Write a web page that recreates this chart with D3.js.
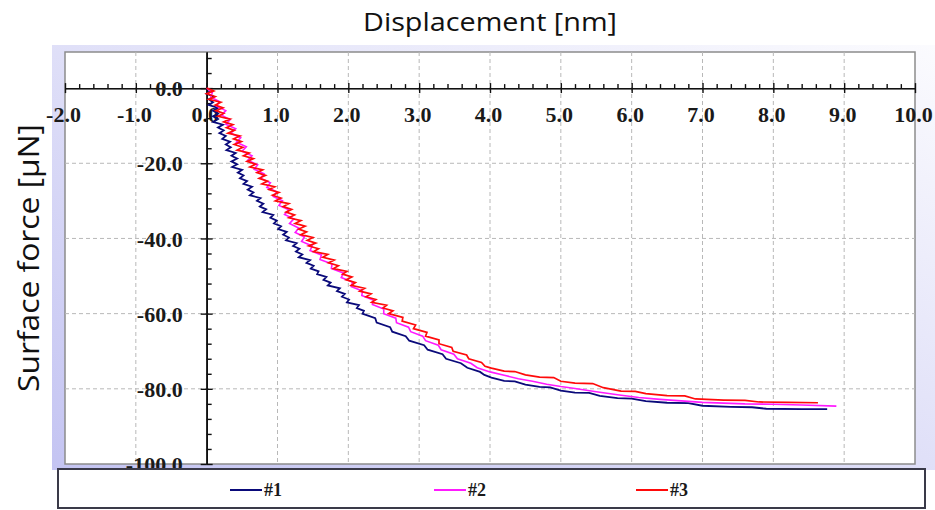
<!DOCTYPE html>
<html>
<head>
<meta charset="utf-8">
<script src="https://cdn.jsdelivr.net/npm/d3@7"></script>
<style>
body { margin: 0; background: #fff; }
svg { display: block; }
.tick text { font-family: "Liberation Serif", "Times New Roman", serif; font-weight: bold; font-size: 22px; fill: #1a1a1a; }
.axis path, .axis line { stroke: #111; stroke-width: 1.4; }
</style>
</head>
<body>
<div id="content"></div>
<script>
// tick labels
const X_TICKS = [-2, -1, 0, 1, 2, 3, 4, 5, 6, 7, 8, 9, 10];
const Y_TICKS = [0, -20, -40, -60, -80, -100];
const SERIES_NAMES = ['#1', '#2', '#3'];
const SERIES_COLORS = ['#0a0a7a', '#ff1aff', '#ff0a0a'];

// [displacement nm, force uN] (noisy part traced by hand)
const series1 = [
  [0, 0], [0.05, -0.75], [0.0, -1.5], [0.1, -2.25], [0.03, -3], [0.09, -3.75], [0.03, -4.5],
  [0.16, -5.25], [0.09, -6], [0.16, -6.75], [0.09, -7.5], [0.16, -8.25], [0.09, -9],
  [0.23, -9.75], [0.16, -10.5], [0.24, -11.25], [0.18, -12], [0.27, -12.75], [0.22, -13.5],
  [0.33, -14.25], [0.27, -15], [0.34, -15.75], [0.28, -16.5], [0.41, -17.25], [0.35, -18],
  [0.43, -18.75], [0.35, -19.5], [0.43, -20.25], [0.36, -21], [0.5, -21.75], [0.44, -22.5],
  [0.52, -23.25], [0.47, -24], [0.57, -24.75], [0.52, -25.5], [0.64, -26.25], [0.58, -27],
  [0.66, -27.75], [0.61, -28.5], [0.76, -29.25], [0.71, -30], [0.8, -30.75], [0.75, -31.5],
  [0.84, -32.25], [0.79, -33], [0.94, -33.75], [0.9, -34.5], [0.99, -35.25], [0.95, -36],
  [1.05, -36.75], [1.01, -37.5], [1.13, -38.25], [1.08, -39], [1.16, -39.75], [1.12, -40.5],
  [1.27, -41.25], [1.22, -42], [1.31, -42.75], [1.26, -43.5], [1.35, -44.25], [1.3, -45],
  [1.46, -45.75], [1.41, -46.5], [1.51, -47.25], [1.47, -48], [1.58, -48.75], [1.56, -49.5],
  [1.69, -50.25], [1.65, -51], [1.75, -51.75], [1.71, -52.5], [1.88, -53.25], [1.84, -54],
  [1.95, -54.75], [1.91, -55.5], [2.01, -56.25], [1.98, -57], [2.15, -57.75], [2.12, -58.5],
  [2.22, -59.25], [2.2, -60], [2.38, -61.2], [2.4, -62.4], [2.59, -63.6], [2.62, -64.8],
  [2.81, -66], [2.86, -67.2], [3.07, -68.4], [3.12, -69.6], [3.33, -70.8], [3.38, -72],
  [3.59, -73.2], [3.68, -74.4], [3.86, -75.5], [3.92, -76.3], [4.02, -77],
  [4.2, -77.9], [4.35, -78.0], [4.5, -78.9], [4.7, -79.5], [4.85, -79.6], [5.0, -80.5],
  [5.2, -81.0], [5.4, -81.1], [5.55, -81.9], [5.8, -82.5], [6.0, -82.6], [6.2, -83.3],
  [6.5, -83.7], [6.8, -83.8], [7.0, -84.5], [7.4, -84.8], [7.7, -84.9], [7.9, -85.3],
  [8.4, -85.4], [8.76, -85.4]
];
const series2 = [
  [0, 0], [0.08, -1.2], [0.06, -2.4], [0.18, -3.6], [0.14, -4.8], [0.27, -6], [0.21, -7.2],
  [0.33, -8.4], [0.27, -9.6], [0.41, -10.8], [0.34, -12], [0.48, -13.2], [0.42, -14.4],
  [0.56, -15.6], [0.5, -16.8], [0.64, -18], [0.58, -19.2], [0.72, -20.4], [0.67, -21.6],
  [0.81, -22.8], [0.76, -24], [0.9, -25.2], [0.85, -26.4], [0.99, -27.6], [0.94, -28.8],
  [1.07, -30], [1.02, -31.2], [1.16, -32.4], [1.1, -33.6], [1.23, -34.8], [1.17, -36],
  [1.3, -37.2], [1.25, -38.4], [1.38, -39.6], [1.34, -40.8], [1.49, -42], [1.46, -43.2],
  [1.62, -44.4], [1.6, -45.6], [1.77, -46.8], [1.76, -48], [1.93, -49.2], [1.9, -50.4],
  [2.06, -51.6], [2.04, -52.8], [2.2, -54], [2.19, -55.2], [2.35, -56.4], [2.34, -57.6],
  [2.5, -58.8], [2.5, -60], [2.67, -61.2], [2.68, -62.4], [2.85, -63.6], [2.88, -64.8],
  [3.05, -66], [3.09, -67.2], [3.27, -68.4], [3.31, -69.6], [3.49, -70.8], [3.54, -72],
  [3.73, -73.2], [3.82, -74.4], [4.0, -75.5],
  [4.2, -76.4], [4.4, -77.3], [4.6, -78.0], [4.8, -78.8], [5.0, -79.4], [5.2, -79.9],
  [5.5, -80.8], [5.8, -81.6], [6.1, -82.3], [6.4, -82.8], [6.7, -83.2], [7.0, -83.6],
  [7.3, -83.8], [7.6, -84.0], [8.0, -84.1], [8.4, -84.3], [8.89, -84.6]
];
const series3 = [
  [0, 0], [0.1, -0.75], [0.0, -1.5], [0.12, -2.25], [0.03, -3], [0.2, -3.75], [0.12, -4.5],
  [0.23, -5.25], [0.13, -6], [0.24, -6.75], [0.16, -7.5], [0.33, -8.25], [0.24, -9],
  [0.37, -9.75], [0.28, -10.5], [0.39, -11.25], [0.3, -12], [0.47, -12.75], [0.38, -13.5],
  [0.49, -14.25], [0.39, -15], [0.51, -15.75], [0.43, -16.5], [0.6, -17.25], [0.52, -18],
  [0.66, -18.75], [0.57, -19.5], [0.69, -20.25], [0.61, -21], [0.79, -21.75], [0.71, -22.5],
  [0.83, -23.25], [0.74, -24], [0.86, -24.75], [0.78, -25.5], [0.96, -26.25], [0.88, -27],
  [1.02, -27.75], [0.93, -28.5], [1.05, -29.25], [0.97, -30], [1.16, -30.75], [1.08, -31.5],
  [1.2, -32.25], [1.12, -33], [1.24, -33.75], [1.16, -34.5], [1.33, -35.25], [1.25, -36],
  [1.39, -36.75], [1.3, -37.5], [1.41, -38.25], [1.33, -39], [1.5, -39.75], [1.42, -40.5],
  [1.54, -41.25], [1.44, -42], [1.58, -42.75], [1.51, -43.5], [1.71, -44.25], [1.64, -45],
  [1.8, -45.75], [1.72, -46.5], [1.86, -47.25], [1.79, -48], [1.98, -48.75], [1.92, -49.5],
  [2.05, -50.25], [1.97, -51], [2.1, -51.75], [2.04, -52.5], [2.23, -53.25], [2.16, -54],
  [2.32, -54.75], [2.25, -55.5], [2.39, -56.25], [2.33, -57], [2.54, -57.75], [2.49, -58.5],
  [2.63, -59.25], [2.57, -60], [2.77, -61], [2.76, -62], [2.95, -63], [2.92, -64],
  [3.11, -65], [3.09, -66], [3.28, -67], [3.28, -68], [3.46, -69], [3.48, -70],
  [3.67, -71], [3.7, -72], [3.88, -73], [3.93, -74], [4.02, -74.5],
  [4.2, -75.3], [4.35, -75.4], [4.5, -76.3], [4.7, -76.9], [4.9, -77.0], [5.0, -78.0],
  [5.2, -78.5], [5.45, -78.6], [5.6, -79.7], [5.85, -80.6], [6.05, -80.7], [6.2, -81.3],
  [6.5, -81.8], [6.75, -81.9], [6.9, -82.7], [7.3, -83.0], [7.6, -83.1], [7.8, -83.5],
  [8.2, -83.6], [8.63, -83.7]
];

var W = 935, H = 510;
var left = 65, right = 915, bottom = 464;

var x = d3.scaleLinear().domain([-2, 10]).range([left, right]);
var y = d3.scaleLinear().domain([-100, 9.6]).range([bottom, 52]);
var top_ = y(9.6);

var svg = d3.select('#content')
  .append('svg')
  .attr('width', W)
  .attr('height', H);

// slide background
var grad = svg.append('defs').append('linearGradient')
  .attr('id', 'panelGrad')
  .attr('x1', 1).attr('y1', 0).attr('x2', 0).attr('y2', 1);
grad.append('stop').attr('offset', 0).attr('stop-color', '#fbfbfe');
grad.append('stop').attr('offset', 1).attr('stop-color', '#c4c4f2');

svg.append('rect')
  .attr('x', 52).attr('y', 45)
  .attr('width', W - 52).attr('height', 425)
  .attr('fill', 'url(#panelGrad)');

// plot frame
svg.append('rect')
  .attr('x', left).attr('y', top_)
  .attr('width', right - left).attr('height', bottom - top_)
  .attr('fill', '#fff')
  .attr('stroke', '#8c8c8c')
  .attr('stroke-width', 1.5);

// dashed grid
svg.append('g')
  .selectAll('line')
  .data(X_TICKS.filter(v => v > -2 && v < 10 && v != 0))
  .enter()
  .append('line')
  .attr('x1', d => x(d)).attr('x2', d => x(d))
  .attr('y1', top_).attr('y2', bottom)
  .attr('stroke', '#b8b8b8')
  .attr('stroke-dasharray', '4,3');

svg.append('g')
  .selectAll('line')
  .data(Y_TICKS.filter(v => v < 0 && v > -100))
  .enter()
  .append('line')
  .attr('x1', left).attr('x2', right)
  .attr('y1', d => y(d)).attr('y2', d => y(d))
  .attr('stroke', '#b8b8b8')
  .attr('stroke-dasharray', '4,3');

// x axis through y = 0
var minorX = d3.range(-2, 10.001, 0.2).filter(v => Math.abs(v - Math.round(v)) > 1e-6);
var minorY = d3.range(-100, 9, 4).filter(v => v % 20 != 0);

svg.append('g')
  .attr('class', 'axis')
  .attr('transform', 'translate(0,' + y(0) + ')')
  .call(d3.axisTop(x).tickValues(minorX).tickSize(4).tickSizeOuter(0).tickFormat(''));

svg.append('g')
  .attr('class', 'axis')
  .attr('transform', 'translate(0,' + y(0) + ')')
  .call(d3.axisTop(x).tickValues(X_TICKS).tickSize(5).tickSizeOuter(0).tickFormat(''));

var xLabels = svg.append('g')
  .attr('class', 'axis')
  .attr('transform', 'translate(0,' + y(0) + ')')
  .call(d3.axisBottom(x).tickValues(X_TICKS).tickSize(5).tickSizeOuter(0).tickFormat(d => d.toFixed(1)));
xLabels.selectAll('text').attr('y', 34).attr('dy', null).attr('dx', -2);

// y axis through x = 0
svg.append('g')
  .attr('class', 'axis')
  .attr('transform', 'translate(' + x(0) + ',0)')
  .call(d3.axisRight(y).tickValues(minorY).tickSize(5).tickSizeOuter(0).tickFormat(''));

svg.append('g')
  .attr('class', 'axis')
  .attr('transform', 'translate(' + x(0) + ',0)')
  .call(d3.axisRight(y).tickValues(Y_TICKS).tickSize(6).tickSizeOuter(0).tickFormat(''));

var yLabels = svg.append('g')
  .attr('class', 'axis')
  .attr('transform', 'translate(' + x(0) + ',0)')
  .call(d3.axisLeft(y).tickValues(Y_TICKS).tickSize(6).tickSizeOuter(0).tickFormat(d => d.toFixed(1)));
yLabels.selectAll('text').attr('x', -24).attr('dy', '0.35em');

// curves
var line = d3.line()
  .x(d => x(d[0]))
  .y(d => y(d[1]));

var widths = [1.8, 1.6, 1.7];
[series1, series2, series3].forEach(function (s, i) {
  svg.append('path')
    .datum(s)
    .attr('fill', 'none')
    .attr('stroke', SERIES_COLORS[i])
    .attr('stroke-width', widths[i])
    .attr('stroke-linejoin', 'miter')
    .attr('d', line);
});

// legend box
svg.append('rect')
  .attr('x', 58).attr('y', 469)
  .attr('width', 867).attr('height', 39)
  .attr('fill', '#fff')
  .attr('stroke', '#3a3a48')
  .attr('stroke-width', 2);

var legendX = [230, 434, 636];
SERIES_NAMES.forEach(function (name, i) {
  svg.append('line')
    .attr('x1', legendX[i]).attr('x2', legendX[i] + 32)
    .attr('y1', 490).attr('y2', 490)
    .attr('stroke', SERIES_COLORS[i])
    .attr('stroke-width', 2);
  svg.append('text')
    .attr('x', legendX[i] + 34)
    .attr('y', 496)
    .attr('font-family', '"Liberation Serif", "Times New Roman", serif')
    .attr('font-weight', 'bold')
    .attr('font-size', 18)
    .attr('fill', '#1a1a1a')
    .text(name);
});

// titles
svg.append('text')
  .attr('x', 490)
  .attr('y', 31)
  .attr('text-anchor', 'middle')
  .attr('font-family', '"Open Sans", sans-serif')
  .attr('font-size', 25)
  .attr('fill', '#111')
  .attr('textLength', 254)
  .attr('lengthAdjust', 'spacingAndGlyphs')
  .text('Displacement [nm]');

svg.append('text')
  .attr('transform', 'translate(39,258) rotate(-90)')
  .attr('text-anchor', 'middle')
  .attr('font-family', '"Open Sans", sans-serif')
  .attr('font-size', 29)
  .attr('fill', '#111')
  .attr('textLength', 268)
  .attr('lengthAdjust', 'spacingAndGlyphs')
  .text('Surface force [μN]');
</script>
</body>
</html>
